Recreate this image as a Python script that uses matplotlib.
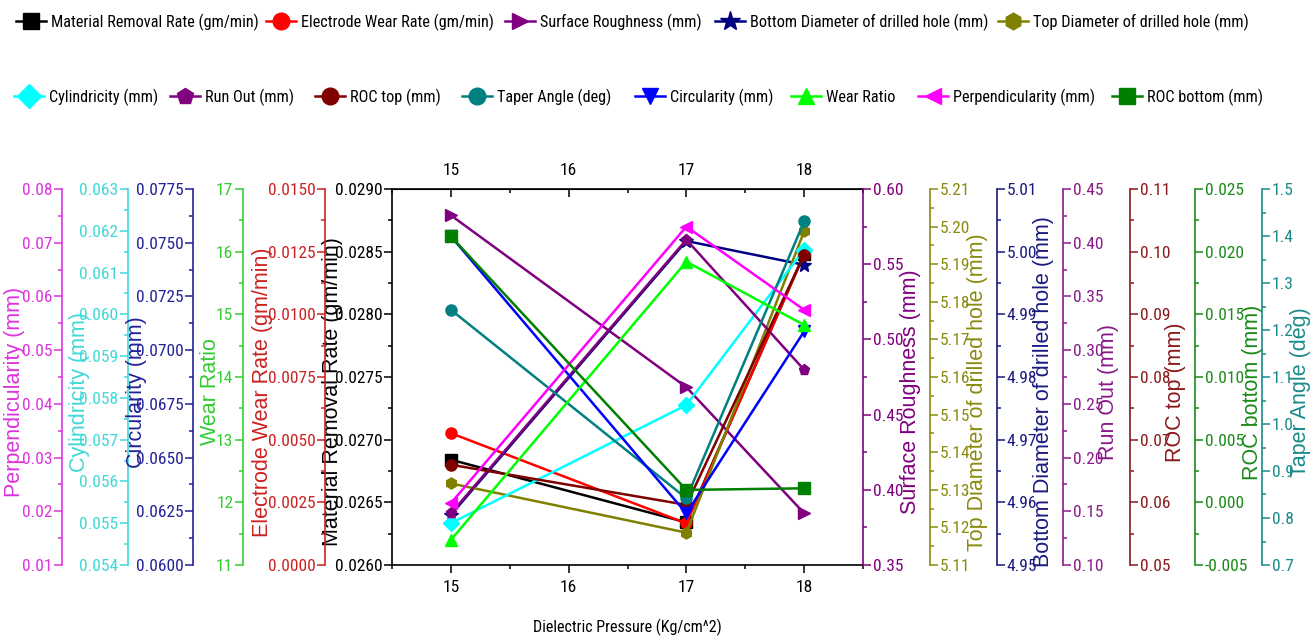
import matplotlib
matplotlib.use("Agg")
import matplotlib.pyplot as plt
from matplotlib import font_manager
from matplotlib.ticker import MultipleLocator, AutoMinorLocator, FormatStrFormatter


def pick_font(*names):
    available = {f.name for f in font_manager.fontManager.ttflist}
    for n in names:
        if n in available:
            return n
    return "DejaVu Sans"


NARROW = pick_font("Liberation Sans Narrow", "Arial Narrow", "Roboto Condensed",
                   "Archivo Narrow", "Liberation Sans")
REGULAR = pick_font("Liberation Sans", "Arimo", "DejaVu Sans")
plt.rcParams["font.family"] = [NARROW, "DejaVu Sans"]

# ---- data: responses vs dielectric pressure ----
pressure = [15, 17, 18]
x_ticks = [15, 16, 17, 18]

mrr = [0.02684, 0.02634, 0.02848]             # gm/min
ewr = [0.00526, 0.00166, 0.0124]              # gm/min
surface_roughness = [0.5825, 0.4682, 0.3844]  # mm
bottom_diameter = [4.958, 5.0017, 4.9979]     # mm
top_diameter = [5.1317, 5.1186, 5.1987]       # mm
cylindricity = [0.0550, 0.05783, 0.06155]     # mm
run_out = [0.148, 0.4028, 0.2817]             # mm
roc_top = [0.0660, 0.0596, 0.0995]            # mm
taper_angle = [1.243, 0.842, 1.431]           # deg
circularity = [0.0753, 0.0624, 0.07087]       # mm
wear_ratio = [11.40, 15.84, 14.83]
perpendicularity = [0.0215, 0.0730, 0.0575]   # mm
roc_bottom = [0.02122, 0.00099, 0.00112]      # mm

W, H = 1315, 642
fig = plt.figure(figsize=(W / 100, H / 100), dpi=100)
fig.patch.set_facecolor("white")

AX_L, AX_R, AX_T, AX_B = 392, 863, 189, 565
ax = fig.add_axes([AX_L / W, 1 - AX_B / H, (AX_R - AX_L) / W, (AX_B - AX_T) / H])


def frac_x(px):
    return (px - AX_L) / (AX_R - AX_L)


TICK_FS = 12.5
LABEL_FS = 15.5
LABEL_Y = 0.46

# (label, values, ylim, major step, fmt, side, spine px, label px,
#  line colour, axis colour, marker)
specs = [
    ("Material Removal Rate (gm/min)", mrr, (0.026, 0.029), 0.0005, "%.4f",
     "main", AX_L, 333, "black", "black", "s"),
    ("Electrode Wear Rate (gm/min)", ewr, (0.0, 0.015), 0.0025, "%.4f",
     "left", 325, 263, "#FF0000", "#CC2222", "o"),
    ("Surface Roughness (mm)", surface_roughness, (0.35, 0.60), 0.05, "%.2f",
     "right", AX_R, 911, "#800080", "#800080", ">"),
    ("Bottom Diameter of drilled hole (mm)", bottom_diameter, (4.95, 5.01), 0.01, "%.2f",
     "right", 997, 1044, "#000080", "#1A1A80", "*"),
    ("Top Diameter of drilled hole (mm)", top_diameter, (5.11, 5.21), 0.01, "%.2f",
     "right", 930, 978, "#808000", "#8A8A10", "h"),
    ("Cylindricity (mm)", cylindricity, (0.054, 0.063), 0.001, "%.3f",
     "left", 128, 79, "#00FFFF", "#3FD8D8", "D"),
    ("Run Out (mm)", run_out, (0.10, 0.45), 0.05, "%.2f",
     "right", 1063, 1109, "#800080", "#8A1A8A", "p"),
    ("ROC top (mm)", roc_top, (0.05, 0.11), 0.01, "%.2f",
     "right", 1130, 1176, "#800000", "#8A1A1A", "o"),
    ("Taper Angle (deg)", taper_angle, (0.7, 1.5), 0.1, "%.1f",
     "right", 1262, 1301, "#008080", "#1A8A8A", "o"),
    ("Circularity (mm)", circularity, (0.06, 0.0775), 0.0025, "%.4f",
     "left", 193, 137, "#0000FF", "#22229A", "v"),
    ("Wear Ratio", wear_ratio, (11, 17), 1, "%d",
     "left", 243, 211, "#00FF00", "#33CC33", "^"),
    ("Perpendicularity (mm)", perpendicularity, (0.01, 0.08), 0.01, "%.2f",
     "left", 62, 15, "#FF00FF", "#DD33DD", "<"),
    ("ROC bottom (mm)", roc_bottom, (-0.005, 0.025), 0.005, "%.3f",
     "right", 1195, 1253, "#008000", "#1A8A1A", "s"),
]

lines = {}
for (label, vals, ylim, step, fmt, side, spine_px, label_px,
     lcol, acol, mk) in specs:
    if side == "main":
        a = ax
        sp = "left"
    else:
        a = ax.twinx()
        a.patch.set_visible(False)
        if side == "left":
            a.yaxis.tick_left()
            a.yaxis.set_label_position("left")
            a.spines["left"].set_position(("axes", frac_x(spine_px)))
            sp = "left"
        else:
            a.spines["right"].set_position(("axes", frac_x(spine_px)))
            sp = "right"
        for s in ("left", "right", "top", "bottom"):
            if s != sp:
                a.spines[s].set_visible(False)
    a.set_ylim(*ylim)
    a.yaxis.set_major_locator(MultipleLocator(step))
    a.yaxis.set_minor_locator(AutoMinorLocator(2))
    a.yaxis.set_major_formatter(FormatStrFormatter(fmt))
    a.spines[sp].set_color(acol)
    a.spines[sp].set_linewidth(1.2)
    a.tick_params(axis="y", which="both", direction="out", colors=acol,
                  labelsize=TICK_FS, pad=1, width=1.1)
    a.tick_params(axis="y", which="major", length=6)
    a.tick_params(axis="y", which="minor", length=3)
    a.set_ylabel(label, color=acol, fontsize=LABEL_FS, family=REGULAR)
    a.yaxis.set_label_coords(frac_x(label_px), LABEL_Y)
    a.yaxis.label.set_va("center")
    ln, = a.plot(pressure, vals, color=lcol, lw=1.8, marker=mk,
                 markersize=8 if mk != "*" else 10, markerfacecolor=lcol,
                 markeredgecolor=lcol, zorder=3)
    lines[label] = ln

# shared x axis
ax.set_xlim(14.5, 18.5)
ax.set_xticks(x_ticks)
ax.xaxis.set_minor_locator(MultipleLocator(0.5))
ax.tick_params(axis="x", which="both", direction="out", labelsize=TICK_FS,
               pad=5, width=1.1)
ax.tick_params(axis="x", which="major", length=6)
ax.tick_params(axis="x", which="minor", length=3)
ax.spines["right"].set_visible(False)
for s in ("left", "top", "bottom"):
    ax.spines[s].set_linewidth(1.2)
ax.set_xlabel("Dielectric Pressure (Kg/cm^2)", fontsize=11.5)
ax.xaxis.set_label_coords(0.5, (AX_B - 627) / (AX_B - AX_T))
ax.xaxis.label.set_va("center")

top = ax.secondary_xaxis("top")
top.set_xticks(x_ticks)
top.xaxis.set_minor_locator(MultipleLocator(0.5))
top.tick_params(axis="x", which="both", direction="in", labelsize=TICK_FS,
                pad=8, width=1.1)
top.tick_params(axis="x", which="major", length=6)
top.tick_params(axis="x", which="minor", length=3)

# legend entries, two rows across the top (text start in pixels)
legend_rows = [
    (22, [("Material Removal Rate (gm/min)", 51),
          ("Electrode Wear Rate (gm/min)", 301),
          ("Surface Roughness (mm)", 540),
          ("Bottom Diameter of drilled hole (mm)", 750),
          ("Top Diameter of drilled hole (mm)", 1033)]),
    (97, [("Cylindricity (mm)", 49),
          ("Run Out (mm)", 205),
          ("ROC top (mm)", 350),
          ("Taper Angle (deg)", 497),
          ("Circularity (mm)", 670),
          ("Wear Ratio", 826),
          ("Perpendicularity (mm)", 953),
          ("ROC bottom (mm)", 1147)]),
]
LEG_FS = 11.7
fs_px = LEG_FS * 100 / 72
for y_px, entries in legend_rows:
    for label, text_px in entries:
        hl_px, pad_px = 30, 5
        fig.legend([lines[label]], [label], loc="center left",
                   bbox_to_anchor=((text_px - hl_px - pad_px) / W, 1 - y_px / H),
                   frameon=False, borderpad=0, borderaxespad=0,
                   handlelength=hl_px / fs_px, handletextpad=pad_px / fs_px,
                   markerscale=1.5, fontsize=LEG_FS)

fig.savefig("out.png", dpi=100)
